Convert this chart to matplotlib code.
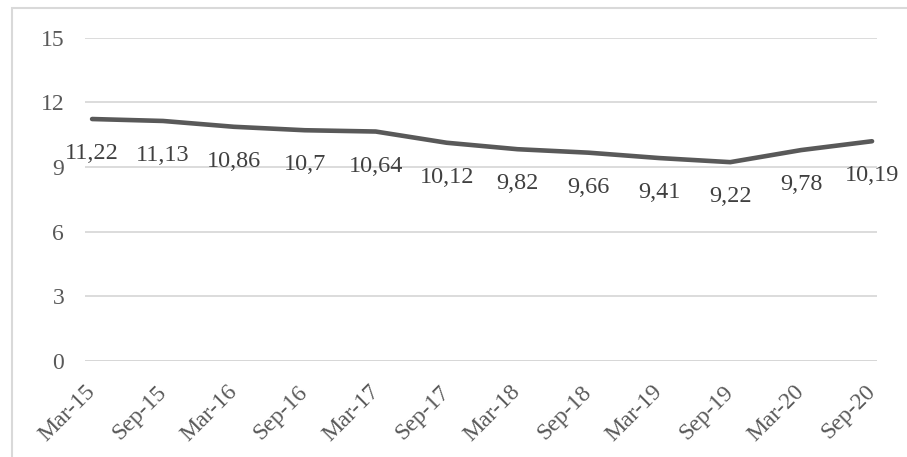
import matplotlib
matplotlib.use("Agg")
import matplotlib.pyplot as plt
from matplotlib.patches import Rectangle

categories = ["Mar-15", "Sep-15", "Mar-16", "Sep-16", "Mar-17", "Sep-17",
              "Mar-18", "Sep-18", "Mar-19", "Sep-19", "Mar-20", "Sep-20"]
values = [11.22, 11.13, 10.86, 10.7, 10.64, 10.12, 9.82, 9.66, 9.41, 9.22, 9.78, 10.19]
value_labels = ["11,22", "11,13", "10,86", "10,7", "10,64", "10,12",
                "9,82", "9,66", "9,41", "9,22", "9,78", "10,19"]
y_ticks = [0, 3, 6, 9, 12, 15]

plt.rcParams['font.family'] = ['Liberation Serif', 'DejaVu Serif']

W, H = 907, 457
fig = plt.figure(figsize=(W / 100, H / 100), dpi=100)
fig.patch.set_facecolor('white')

# outer chart border (cropped at right/bottom)
fig.patches.append(Rectangle((12 / W, -0.1), 1.2, (H - 8) / H + 0.1,
                             transform=fig.transFigure, fill=False,
                             edgecolor='#d9d9d9', linewidth=1.5))

ax = fig.add_axes([85 / W, 1 - 361 / H, (877 - 85) / W, (361 - 37.5) / H])
ax.set_facecolor('none')
x = list(range(len(categories)))
ax.plot(x, values, color='#595959', linewidth=3.3, solid_capstyle='round',
        solid_joinstyle='round', zorder=3)

for xi, v, lab in zip(x, values, value_labels):
    ax.annotate(lab, (xi, v), xytext=(0, -25), textcoords='offset points',
                ha='center', va='center', fontsize=17.5, color='#404040', zorder=4)

ax.set_xlim(-0.1, 11.07)
ax.set_ylim(0, 15)
ax.set_yticks(y_ticks)
ax.set_yticklabels([str(t) for t in y_ticks])
ax.set_xticks(x)
ax.set_xticklabels(categories, rotation=45, ha='right', va='center',
                   rotation_mode='anchor')
ax.tick_params(axis='both', length=0, colors='#595959', labelsize=17)
ax.tick_params(axis='y', pad=15)
ax.tick_params(axis='x', pad=20)
for lbl in ax.get_xticklabels():
    lbl.set_color('#595959')

ax.grid(axis='y', color='#d9d9d9', linewidth=1.3, zorder=0)
ax.grid(axis='x', visible=False)
for s in ax.spines.values():
    s.set_visible(False)
ax.axhline(0, color='#c8c8c8', linewidth=1.4, zorder=1)

fig.savefig('out.png', dpi=100)
